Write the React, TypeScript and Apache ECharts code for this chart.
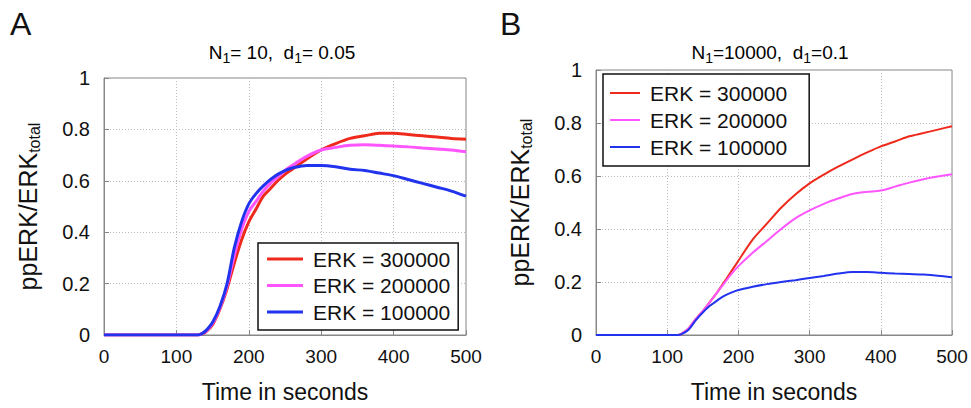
import React, { useEffect, useRef } from "react";
import * as echarts from "echarts";

// Panel A: N1 = 10, d1 = 0.05
const timeA = [0, 50, 100, 130, 135, 140, 150, 160, 170, 180, 190, 200, 210, 220, 230, 240, 250, 260, 280, 300, 320, 340, 360, 380, 400, 420, 440, 460, 480, 500];
const redA = [0, 0, 0, 0, 0.005, 0.01, 0.04, 0.1, 0.18, 0.28, 0.37, 0.44, 0.49, 0.54, 0.57, 0.6, 0.625, 0.645, 0.685, 0.72, 0.745, 0.765, 0.775, 0.785, 0.785, 0.78, 0.775, 0.77, 0.765, 0.762];
const magentaA = [0, 0, 0, 0, 0.005, 0.012, 0.045, 0.105, 0.19, 0.31, 0.41, 0.48, 0.52, 0.56, 0.59, 0.615, 0.64, 0.66, 0.695, 0.72, 0.73, 0.738, 0.74, 0.738, 0.735, 0.732, 0.728, 0.724, 0.72, 0.713];
const blueA = [0, 0, 0, 0, 0.005, 0.015, 0.05, 0.11, 0.2, 0.34, 0.44, 0.51, 0.55, 0.58, 0.605, 0.625, 0.64, 0.65, 0.66, 0.66, 0.655, 0.645, 0.64, 0.63, 0.62, 0.605, 0.59, 0.575, 0.56, 0.54];

// Panel B: N1 = 10000, d1 = 0.1
const timeB = [0, 50, 100, 115, 120, 130, 140, 150, 160, 170, 180, 190, 200, 220, 240, 260, 280, 300, 320, 340, 360, 380, 400, 420, 440, 460, 480, 500];
const redB = [0, 0, 0, 0, 0.004, 0.025, 0.06, 0.09, 0.125, 0.16, 0.2, 0.24, 0.28, 0.36, 0.42, 0.48, 0.53, 0.572, 0.605, 0.635, 0.662, 0.688, 0.712, 0.73, 0.75, 0.762, 0.775, 0.788];
const magentaB = [0, 0, 0, 0, 0.004, 0.025, 0.06, 0.09, 0.125, 0.16, 0.195, 0.23, 0.26, 0.31, 0.355, 0.4, 0.44, 0.47, 0.495, 0.515, 0.532, 0.54, 0.545, 0.56, 0.575, 0.588, 0.598, 0.607];
const blueB = [0, 0, 0, 0, 0.003, 0.02, 0.055, 0.085, 0.11, 0.13, 0.148, 0.16, 0.17, 0.182, 0.192, 0.2, 0.207, 0.215, 0.223, 0.232, 0.238, 0.238, 0.235, 0.232, 0.23, 0.228, 0.224, 0.218];

const seriesNames = ["ERK = 300000", "ERK = 200000", "ERK = 100000"];
const seriesColors = ["#ee2a1c", "#ff55ff", "#2233ee"];
const xTicks = [0, 100, 200, 300, 400, 500];
const yTicks = [0, 0.2, 0.4, 0.6, 0.8, 1];

const FONT = "Liberation Sans, Arial, sans-serif";

const zip = (t: number[], v: number[]) => t.map((x, i) => [x, v[i]]);

export default function App() {
  const ref = useRef<HTMLDivElement>(null);
  useEffect(() => {
    document.body.style.margin = "0";
    const chart = echarts.init(ref.current!, null, { renderer: "svg" });

    const xAxisBase = (gridIndex: number) => ({
      type: "value",
      gridIndex,
      min: xTicks[0],
      max: xTicks[xTicks.length - 1],
      interval: 100,
      name: "Time in seconds",
      nameLocation: "middle",
      nameGap: 45,
      nameTextStyle: { fontSize: 23, color: "#111", fontFamily: FONT },
      axisLine: { show: true, lineStyle: { color: "#888", width: 1 } },
      axisTick: { show: true, inside: true, length: 5, lineStyle: { color: "#888" } },
      axisLabel: { fontSize: 19, color: "#111", margin: 12, fontFamily: FONT },
      splitLine: { show: true, lineStyle: { color: "#bbb", type: [1, 2], width: 1 } },
    });
    const yAxisBase = (gridIndex: number) => ({
      type: "value",
      gridIndex,
      min: yTicks[0],
      max: yTicks[yTicks.length - 1],
      interval: 0.2,
      name: "{a|ppERK/ERK}{b|total}",
      nameLocation: "middle",
      nameRotate: 90,
      nameGap: 62,
      nameTextStyle: {
        color: "#111",
        fontFamily: FONT,
        rich: {
          a: { fontSize: 25, color: "#111", fontFamily: FONT },
          b: { fontSize: 16, color: "#111", fontFamily: FONT, padding: [12, 0, 0, 0] },
        },
      },
      axisLine: { show: true, lineStyle: { color: "#888", width: 1 } },
      axisTick: { show: true, inside: true, length: 5, lineStyle: { color: "#888" } },
      axisLabel: { fontSize: 20, color: "#111", margin: 14, fontFamily: FONT },
      splitLine: { show: true, lineStyle: { color: "#bbb", type: [1, 2], width: 1 } },
    });

    const mk = (name: string, color: string, t: number[], v: number[], xi: number, w: number) => ({
      type: "line",
      name,
      xAxisIndex: xi,
      yAxisIndex: xi,
      data: zip(t, v),
      symbol: "none",
      smooth: 0.3,
      lineStyle: { color, width: w },
      itemStyle: { color },
    });

    const legendBase = {
      orient: "vertical",
      data: seriesNames,
      icon: "rect",
      borderColor: "#111",
      borderWidth: 1.5,
      backgroundColor: "#fff",
      textStyle: { fontSize: 21, color: "#111", fontFamily: FONT, lineHeight: 22, padding: [0, 0, 0, 5] },
      selectedMode: false,
    };

    const titleRich = {
      n: { fontSize: 19, color: "#222", fontFamily: FONT },
      s: { fontSize: 14, color: "#222", fontFamily: FONT, padding: [12, 0, 0, 0] },
    };

    chart.setOption({
      animation: false,
      backgroundColor: "#fff",
      grid: [
        { left: 104, top: 78, width: 362, height: 258, show: true, borderColor: "#888", borderWidth: 1, backgroundColor: "transparent" },
        { left: 596, top: 70, width: 356, height: 266, show: true, borderColor: "#888", borderWidth: 1, backgroundColor: "transparent" },
      ],
      xAxis: [xAxisBase(0), xAxisBase(1)],
      yAxis: [yAxisBase(0), yAxisBase(1)],
      legend: [
        { ...legendBase, left: 258, top: 243, padding: [5, 8, 7, 9], itemGap: 4.5, itemWidth: 36, itemHeight: 3 },
        { ...legendBase, left: 603, top: 74, padding: [8, 22, 8, 7], itemGap: 5, itemWidth: 30, itemHeight: 2 },
      ],
      series: [
        mk(seriesNames[0], seriesColors[0], timeA, redA, 0, 3),
        mk(seriesNames[1], seriesColors[1], timeA, magentaA, 0, 3),
        mk(seriesNames[2], seriesColors[2], timeA, blueA, 0, 3),
        mk(seriesNames[0], seriesColors[0], timeB, redB, 1, 2),
        mk(seriesNames[1], seriesColors[1], timeB, magentaB, 1, 2),
        mk(seriesNames[2], seriesColors[2], timeB, blueB, 1, 2),
      ],
      graphic: [
        { type: "text", left: 10, top: 8, style: { text: "A", fontSize: 32, fill: "#111", fontFamily: FONT } },
        { type: "text", left: 500, top: 8, style: { text: "B", fontSize: 32, fill: "#111", fontFamily: FONT } },
        {
          type: "text", x: 282, y: 52,
          style: { text: "{n|N}{s|1}{n|= 10,  d}{s|1}{n|= 0.05}", rich: titleRich, align: "center", verticalAlign: "middle" },
        },
        {
          type: "text", x: 770, y: 52,
          style: { text: "{n|N}{s|1}{n|=10000,  d}{s|1}{n|=0.1}", rich: titleRich, align: "center", verticalAlign: "middle" },
        },
      ],
    });
    return () => chart.dispose();
  }, []);
  return <div ref={ref} style={{ width: 971, height: 408 }} />;
}
